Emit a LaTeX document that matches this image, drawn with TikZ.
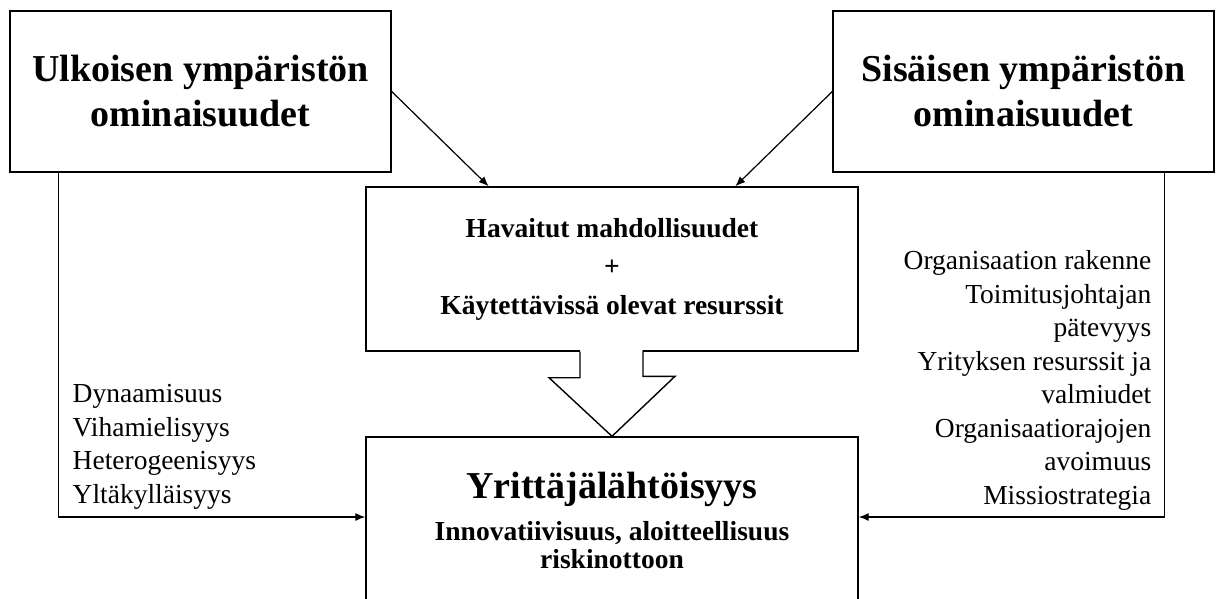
\documentclass[tikz,border=0pt]{standalone}
\usepackage{fontspec}
\setmainfont{Liberation Serif}
\usetikzlibrary{arrows.meta,calc,positioning}

\begin{document}
\begin{tikzpicture}[x=0.5pt, y=-0.5pt, line width=0.7pt,
  title box/.style={draw, minimum width=190.5pt, minimum height=80.5pt, align=center,
    font=\fontsize{19}{22.5}\selectfont\bfseries},
  mid box/.style={draw, minimum width=246pt, minimum height=82pt, align=center,
    font=\fontsize{13.75}{19.25}\selectfont\bfseries},
  list node/.style={inner sep=0pt, font=\fontsize{13.75}{16.75}\selectfont},
  link/.style={line width=0.6pt, -{Latex[length=5pt,width=4pt]}}]

\useasboundingbox (0,0) rectangle (1220,599);

\node[title box] (ulk) at (200.5,91.5) {Ulkoisen ympäristön\\ominaisuudet};
\node[title box] (sis) at (1023.5,91.5) {Sisäisen ympäristön\\ominaisuudet};
\node[mid box] (hav) at (612,269) {Havaitut mahdollisuudet\\+\\Käytettävissä olevat resurssit};
\node[mid box, minimum height=83pt, font=\fontsize{13.75}{14}\selectfont\bfseries] (yrit) at (612,520)
  {{\fontsize{19}{22.5}\selectfont Yrittäjälähtöisyys}\\[7pt]Innovatiivisuus, aloitteellisuus\\riskinottoon};

\node[list node, anchor=north west, align=left] (ulkl) at (72,384)
  {Dynaamisuus\\Vihamielisyys\\Heterogeenisyys\\Yltäkylläisyys};
\node[list node, anchor=north east, align=right] (sisl) at (1152,250)
  {Organisaation rakenne\\Toimitusjohtajan\\pätevyys\\Yrityksen resurssit ja\\valmiudet\\Organisaatiorajojen\\avoimuus\\Missiostrategia};

\draw[link] (ulk.east) -- ($(hav.north west)!0.25!(hav.north east)$);
\draw[link] (sis.west) -- ($(hav.north west)!0.75!(hav.north east)$);
\draw[link] ($(ulk.south west)+(49,0)$) |- ($(yrit.west)+(0,-3)$);
\draw[link] ($(sis.south east)+(-50,0)$) |- ($(yrit.east)+(0,-3)$);

\fill[white] ($(hav.south)+(-32,-2)$) rectangle ($(hav.south)+(31,2)$);
\draw ($(hav.south)+(-32,0)$) -- ++(0,26) -- ++(-31,0) -- (yrit.north) -- ++(63,-60) -- ++(-32,0) -- ++(0,-26);
\end{tikzpicture}
\end{document}
